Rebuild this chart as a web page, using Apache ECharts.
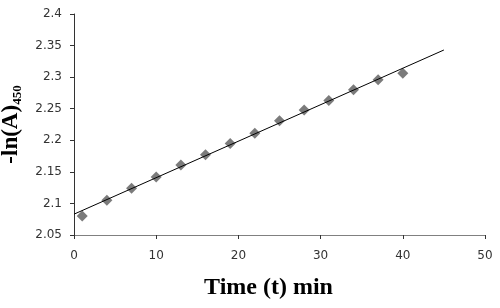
<!DOCTYPE html>
<html>
<head>
<meta charset="utf-8">
<script src="https://cdn.jsdelivr.net/npm/echarts@6/dist/echarts.min.js"></script>
<style>
  html, body { margin: 0; padding: 0; background: #fff; }
  #chart { width: 500px; height: 308px; }
</style>
</head>
<body>
<div id="chart"></div>
<script>
  // measured points
  const timeMin = [1, 4, 7, 10, 13, 16, 19, 22, 25, 28, 31, 34, 37, 40];
  const lnA = [2.080, 2.105, 2.124, 2.142, 2.161, 2.177, 2.195, 2.211, 2.231, 2.248, 2.263, 2.280, 2.296, 2.306];
  // linear fit line, endpoints
  const fitX = [0, 45];
  const fitY = [2.083, 2.343];

  const chart = echarts.init(document.getElementById('chart'));

  const axisColor = '#808080';
  const labelStyle = { color: '#333', fontSize: 12, fontFamily: 'DejaVu Sans' };

  chart.setOption({
    animation: false,
    grid: { left: 74, right: 15, top: 14, bottom: 73, outerBoundsMode: 'none', containLabel: false },
    xAxis: {
      type: 'value',
      min: 0, max: 50, interval: 10,
      name: 'Time (t) min',
      nameLocation: 'middle',
      nameGap: 41,
      nameTextStyle: { fontFamily: 'Liberation Serif', fontWeight: 'bold', fontSize: 24, color: '#000', padding: [0, 22, 0, 0] },
      axisLine: { lineStyle: { color: axisColor } },
      axisTick: { length: 4, lineStyle: { color: '#333' } },
      axisLabel: Object.assign({ margin: 15 }, labelStyle),
      splitLine: { show: false }
    },
    yAxis: {
      type: 'value',
      min: 2.05, max: 2.4, interval: 0.05,
      name: '{a|-ln(A)}{b|450}',
      nameLocation: 'middle',
      nameGap: 50,
      nameRotate: 90,
      nameTextStyle: {
        rich: {
          a: { fontFamily: 'Liberation Serif', fontWeight: 'bold', fontSize: 23, color: '#000' },
          b: { fontFamily: 'Liberation Serif', fontWeight: 'bold', fontSize: 13, color: '#000', padding: [12, 0, 0, 0] }
        }
      },
      axisLine: { show: true, lineStyle: { color: '#333' } },
      axisTick: { show: true, length: 4, lineStyle: { color: '#333' } },
      axisLabel: Object.assign({ margin: 12, formatter: v => String(+v.toFixed(2)) }, labelStyle),
      splitLine: { show: false }
    },
    series: [
      {
        type: 'line',
        data: fitX.map((x, i) => [x, fitY[i]]),
        showSymbol: false,
        lineStyle: { color: '#000', width: 1 },
        z: 3
      },
      {
        type: 'scatter',
        data: timeMin.map((t, i) => [t, lnA[i]]),
        symbol: 'diamond',
        symbolSize: [11, 11],
        itemStyle: { color: '#5a5a5a' },
        z: 2
      }
    ]
  });
</script>
</body>
</html>
